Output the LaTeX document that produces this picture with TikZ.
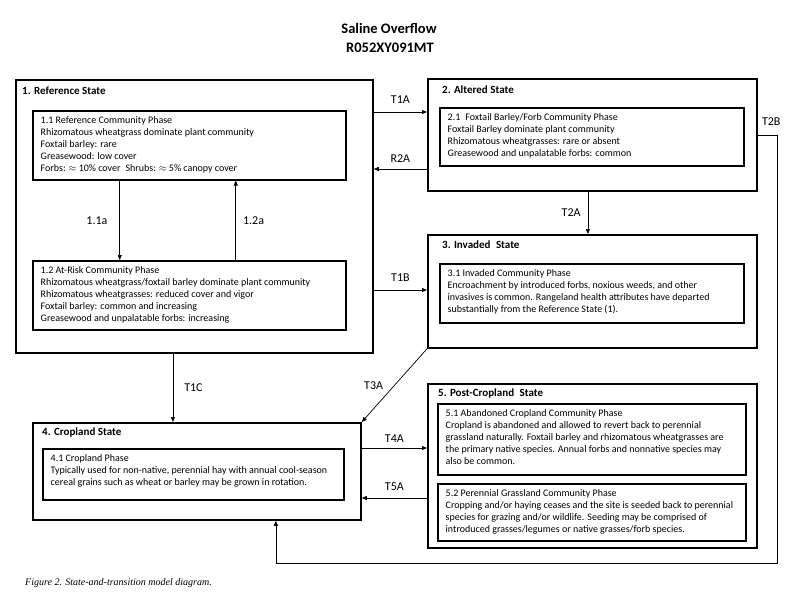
\documentclass[tikz,border=0pt]{standalone}
\usepackage{fontspec}
\setmainfont{Carlito}
\newfontfamily\capfont{Liberation Serif}
\usetikzlibrary{positioning,calc,arrows.meta}
\tikzset{
  statebox/.style   = {draw, line width=1.8pt, anchor=north west, inner sep=0pt},
  phasebox/.style   = {draw, line width=1.5pt, anchor=north west, inner sep=0pt},
  statetitle/.style = {anchor=base west, inner sep=0pt, font=\fontsize{11}{13}\selectfont\bfseries},
  phasetext/.style  = {anchor=north west, inner sep=0pt, align=left, font=\fontsize{10}{12.2}\selectfont},
  translabel/.style = {inner sep=0pt, font=\fontsize{12}{14}\selectfont},
  trans/.style      = {line width=0.7pt, ->},
  >={Triangle[length=5pt,width=4pt]}
}
\newcommand{\DrawState}[6]{%
  % draws the state box
  \node[statebox, minimum width=#3pt, minimum height=#4pt] (#1) at #2 {};
  % displays state title (top left)
  \node[statetitle] (#1-title) at ($(#1.north west)+#6$) {#5};
}
\newcommand{\DrawPhase}[5]{%
  % draws the phase box
  \node[phasebox, minimum width=#3pt, minimum height=#4pt] (#1) at #2 {};
  % displays phase description (top left)
  \node[phasetext] (#1-text) at ($(#1.north west)+(8.5,6)$) {#5};
}
\begin{document}
\begin{tikzpicture}[x=1pt,y=-1pt]
    \fill[white] (0,0) rectangle (800,600);
    \useasboundingbox (0,0) rectangle (800,600);

    % title
    \node[anchor=base, inner sep=0pt, font=\fontsize{14.5}{17}\selectfont\bfseries] (title) at (389,33.5) {Saline Overflow};
    \node[anchor=base, inner sep=0pt, font=\fontsize{14.5}{17}\selectfont\bfseries] (code) at (390,52.3) {R052XY091MT};

    \DrawState{s1}{(15,79)}{357}{273}{1. Reference State}{(7,15)}
    \DrawPhase{p11}{(32,110)}{313}{69}
    {1.1 Reference Community Phase\\
     Rhizomatous wheatgrass dominate plant community\\
     Foxtail barley: rare\\
     Greasewood: low cover\\
     Forbs: $\approx$ 10\% cover\enspace Shrubs: $\approx$ 5\% canopy cover}
    \DrawPhase{p12}{(32,260)}{313}{69}
    {1.2 At-Risk Community Phase\\
     Rhizomatous wheatgrass/foxtail barley dominate plant community\\
     Rhizomatous wheatgrasses: reduced cover and vigor\\
     Foxtail barley: common and increasing\\
     Greasewood and unpalatable forbs: increasing}

    \DrawState{s2}{(427,78)}{329}{112}{2. Altered State}{(15,15)}
    \DrawPhase{p21}{(439,107)}{304}{58}
    {2.1\enspace Foxtail Barley/Forb Community Phase\\
     Foxtail Barley dominate plant community\\
     Rhizomatous wheatgrasses: rare or absent\\
     Greasewood and unpalatable forbs: common}

    \DrawState{s3}{(427,234)}{329}{113}{3. Invaded\enspace State}{(15,14)}
    \DrawPhase{p31}{(439,263)}{304}{59}
    {3.1 Invaded Community Phase\\
     Encroachment by introduced forbs, noxious weeds, and other\\
     invasives is common. Rangeland health attributes have departed\\
     substantially from the Reference State (1).}

    \DrawState{s4}{(32,422)}{328}{97}{4. Cropland State}{(10,13)}
    \DrawPhase{p41}{(42,448)}{301}{51}
    {4.1 Cropland Phase\\
     Typically used for non-native, perennial hay with annual cool-season\\
     cereal grains such as wheat or barley may be grown in rotation.}

    \DrawState{s5}{(427,383)}{329}{164}{5. Post-Cropland\enspace State}{(11,13)}
    \DrawPhase{p51}{(437,403)}{308}{71}
    {5.1 Abandoned Cropland Community Phase\\
     Cropland is abandoned and allowed to revert back to perennial\\
     grassland naturally. Foxtail barley and rhizomatous wheatgrasses are\\
     the primary native species. Annual forbs and nonnative species may\\
     also be common.}
    \DrawPhase{p52}{(437,483)}{308}{57}
    {5.2 Perennial Grassland Community Phase\\
     Cropping and/or haying ceases and the site is seeded back to perennial\\
     species for grazing and/or wildlife. Seeding may be comprised of\\
     introduced grasses/legumes or native grasses/forb species.}

    % community pathways
    \coordinate (a11) at ([xshift=-69.5pt]p11.south);
    \draw[trans] (a11) -- (a11 |- p12.north)
      node[translabel, midway, left=12pt] {1.1a};
    \coordinate (a12) at ([xshift=46.5pt]p12.north);
    \draw[trans] (a12) -- (a12 |- p11.south)
      node[translabel, midway, right=7pt] {1.2a};

    % transitions and restoration
    \coordinate (t1a) at ([yshift=-33pt]s1.north east);
    \draw[trans] (t1a) -- (t1a -| s2.west)
      node[translabel, midway, above=8pt] {T1A};
    \coordinate (r2a) at ([yshift=-91pt]s2.north west);
    \draw[trans] (r2a) -- (r2a -| s1.east)
      node[translabel, midway, above=6pt] {R2A};
    \coordinate (t1b) at ([yshift=-211pt]s1.north east);
    \draw[trans] (t1b) -- (t1b -| s3.west)
      node[translabel, midway, above=8pt] {T1B};
    \coordinate (t2a) at ([xshift=-4.5pt]s2.south);
    \draw[trans] (t2a) -- (t2a |- s3.north)
      node[translabel, midway, left=7pt] {T2A};
    \draw[trans] (s3.south west) -- (s4.north east)
      node[translabel, midway, left=11pt] {T3A};
    \coordinate (t1c) at ([xshift=-21.5pt]s1.south);
    \draw[trans] (t1c) -- (t1c |- s4.north)
      node[translabel, midway, right=11pt] {T1C};
    \coordinate (t4a) at ([yshift=-26pt]s4.north east);
    \draw[trans] (t4a) -- (t4a -| s5.west)
      node[translabel, midway, above=5pt] {T4A};
    \coordinate (t5a) at ([yshift=-76pt]s4.north east);
    \draw[trans] (t5a -| s5.west) -- (t5a)
      node[translabel, midway, above=7pt] {T5A};
    \coordinate (t2b) at ([yshift=-57pt]s2.north east);
    \coordinate (t2bturn) at (777,563);
    \draw[trans] (t2b) -| node[translabel, pos=0.35, above=9pt] {T2B} (t2bturn)
      -| ([xshift=79pt]s4.south);

    % caption
    \node[anchor=base west, inner sep=0pt, font=\capfont\itshape\fontsize{10}{12}\selectfont] (caption) at (25,585) {Figure 2. State-and-transition model diagram.};
\end{tikzpicture}
\end{document}
